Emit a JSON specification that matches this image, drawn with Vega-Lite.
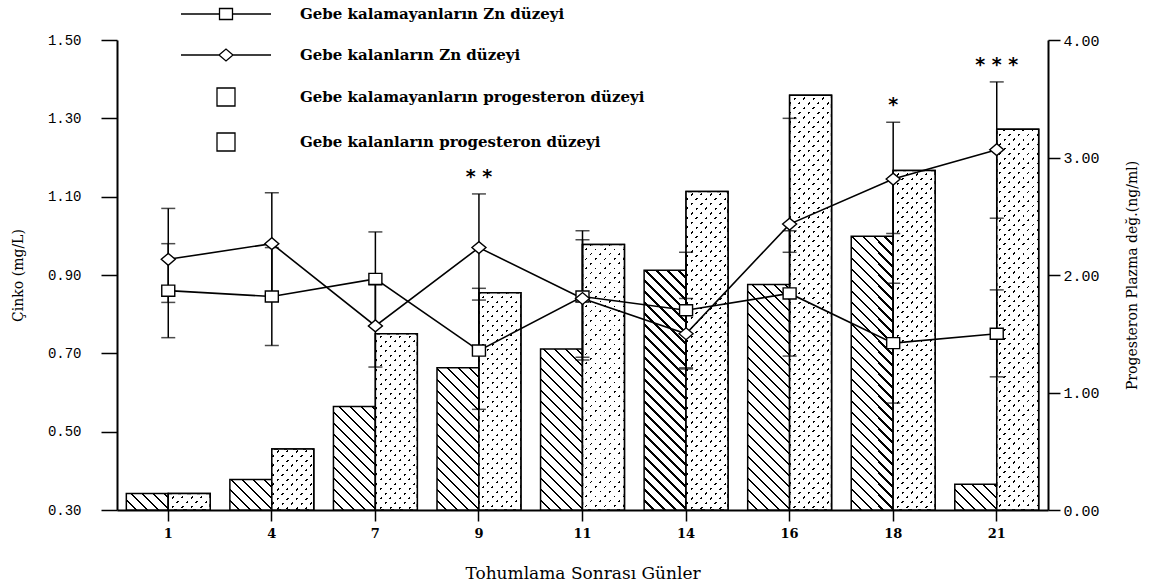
{
"$schema": "https://vega.github.io/schema/vega-lite/v6.json",
"width": 931,
"height": 470,
"autosize": {"type": "none"},
"padding": {"left": 117, "top": 40, "right": 112, "bottom": 74},
"background": "white",
"config": {
  "view": {"stroke": null},
  "font": "DejaVu Serif",
  "axis": {"grid": false, "domainColor": "black", "tickColor": "black", "labelColor": "black", "titleColor": "black", "titleFontWeight": "normal", "domainWidth": 2, "tickWidth": 1.5}
},
"params": [
{"name": "hs", "value": [
{"offset":0,"color":"#fff"},{"offset":0.016,"color":"#fff"},{"offset":0.016,"color":"#000"},{"offset":0.02,"color":"#000"},
{"offset":0.02,"color":"#fff"},{"offset":0.036,"color":"#fff"},{"offset":0.036,"color":"#000"},{"offset":0.04,"color":"#000"},
{"offset":0.04,"color":"#fff"},{"offset":0.056,"color":"#fff"},{"offset":0.056,"color":"#000"},{"offset":0.06,"color":"#000"},
{"offset":0.06,"color":"#fff"},{"offset":0.076,"color":"#fff"},{"offset":0.076,"color":"#000"},{"offset":0.08,"color":"#000"},
{"offset":0.08,"color":"#fff"},{"offset":0.096,"color":"#fff"},{"offset":0.096,"color":"#000"},{"offset":0.1,"color":"#000"},
{"offset":0.1,"color":"#fff"},{"offset":0.116,"color":"#fff"},{"offset":0.116,"color":"#000"},{"offset":0.12,"color":"#000"},
{"offset":0.12,"color":"#fff"},{"offset":0.136,"color":"#fff"},{"offset":0.136,"color":"#000"},{"offset":0.14,"color":"#000"},
{"offset":0.14,"color":"#fff"},{"offset":0.156,"color":"#fff"},{"offset":0.156,"color":"#000"},{"offset":0.16,"color":"#000"},
{"offset":0.16,"color":"#fff"},{"offset":0.176,"color":"#fff"},{"offset":0.176,"color":"#000"},{"offset":0.18,"color":"#000"},
{"offset":0.18,"color":"#fff"},{"offset":0.196,"color":"#fff"},{"offset":0.196,"color":"#000"},{"offset":0.2,"color":"#000"},
{"offset":0.2,"color":"#fff"},{"offset":0.216,"color":"#fff"},{"offset":0.216,"color":"#000"},{"offset":0.22,"color":"#000"},
{"offset":0.22,"color":"#fff"},{"offset":0.236,"color":"#fff"},{"offset":0.236,"color":"#000"},{"offset":0.24,"color":"#000"},
{"offset":0.24,"color":"#fff"},{"offset":0.256,"color":"#fff"},{"offset":0.256,"color":"#000"},{"offset":0.26,"color":"#000"},
{"offset":0.26,"color":"#fff"},{"offset":0.276,"color":"#fff"},{"offset":0.276,"color":"#000"},{"offset":0.28,"color":"#000"},
{"offset":0.28,"color":"#fff"},{"offset":0.296,"color":"#fff"},{"offset":0.296,"color":"#000"},{"offset":0.3,"color":"#000"},
{"offset":0.3,"color":"#fff"},{"offset":0.316,"color":"#fff"},{"offset":0.316,"color":"#000"},{"offset":0.32,"color":"#000"},
{"offset":0.32,"color":"#fff"},{"offset":0.336,"color":"#fff"},{"offset":0.336,"color":"#000"},{"offset":0.34,"color":"#000"},
{"offset":0.34,"color":"#fff"},{"offset":0.356,"color":"#fff"},{"offset":0.356,"color":"#000"},{"offset":0.36,"color":"#000"},
{"offset":0.36,"color":"#fff"},{"offset":0.376,"color":"#fff"},{"offset":0.376,"color":"#000"},{"offset":0.38,"color":"#000"},
{"offset":0.38,"color":"#fff"},{"offset":0.396,"color":"#fff"},{"offset":0.396,"color":"#000"},{"offset":0.4,"color":"#000"},
{"offset":0.4,"color":"#fff"},{"offset":0.416,"color":"#fff"},{"offset":0.416,"color":"#000"},{"offset":0.42,"color":"#000"},
{"offset":0.42,"color":"#fff"},{"offset":0.436,"color":"#fff"},{"offset":0.436,"color":"#000"},{"offset":0.44,"color":"#000"},
{"offset":0.44,"color":"#fff"},{"offset":0.456,"color":"#fff"},{"offset":0.456,"color":"#000"},{"offset":0.46,"color":"#000"},
{"offset":0.46,"color":"#fff"},{"offset":0.476,"color":"#fff"},{"offset":0.476,"color":"#000"},{"offset":0.48,"color":"#000"},
{"offset":0.48,"color":"#fff"},{"offset":0.496,"color":"#fff"},{"offset":0.496,"color":"#000"},{"offset":0.5,"color":"#000"},
{"offset":0.5,"color":"#fff"},{"offset":0.516,"color":"#fff"},{"offset":0.516,"color":"#000"},{"offset":0.52,"color":"#000"},
{"offset":0.52,"color":"#fff"},{"offset":0.536,"color":"#fff"},{"offset":0.536,"color":"#000"},{"offset":0.54,"color":"#000"},
{"offset":0.54,"color":"#fff"},{"offset":0.556,"color":"#fff"},{"offset":0.556,"color":"#000"},{"offset":0.56,"color":"#000"},
{"offset":0.56,"color":"#fff"},{"offset":0.576,"color":"#fff"},{"offset":0.576,"color":"#000"},{"offset":0.58,"color":"#000"},
{"offset":0.58,"color":"#fff"},{"offset":0.596,"color":"#fff"},{"offset":0.596,"color":"#000"},{"offset":0.6,"color":"#000"},
{"offset":0.6,"color":"#fff"},{"offset":0.616,"color":"#fff"},{"offset":0.616,"color":"#000"},{"offset":0.62,"color":"#000"},
{"offset":0.62,"color":"#fff"},{"offset":0.636,"color":"#fff"},{"offset":0.636,"color":"#000"},{"offset":0.64,"color":"#000"},
{"offset":0.64,"color":"#fff"},{"offset":0.656,"color":"#fff"},{"offset":0.656,"color":"#000"},{"offset":0.66,"color":"#000"},
{"offset":0.66,"color":"#fff"},{"offset":0.676,"color":"#fff"},{"offset":0.676,"color":"#000"},{"offset":0.68,"color":"#000"},
{"offset":0.68,"color":"#fff"},{"offset":0.696,"color":"#fff"},{"offset":0.696,"color":"#000"},{"offset":0.7,"color":"#000"},
{"offset":0.7,"color":"#fff"},{"offset":0.716,"color":"#fff"},{"offset":0.716,"color":"#000"},{"offset":0.72,"color":"#000"},
{"offset":0.72,"color":"#fff"},{"offset":0.736,"color":"#fff"},{"offset":0.736,"color":"#000"},{"offset":0.74,"color":"#000"},
{"offset":0.74,"color":"#fff"},{"offset":0.756,"color":"#fff"},{"offset":0.756,"color":"#000"},{"offset":0.76,"color":"#000"},
{"offset":0.76,"color":"#fff"},{"offset":0.776,"color":"#fff"},{"offset":0.776,"color":"#000"},{"offset":0.78,"color":"#000"},
{"offset":0.78,"color":"#fff"},{"offset":0.796,"color":"#fff"},{"offset":0.796,"color":"#000"},{"offset":0.8,"color":"#000"},
{"offset":0.8,"color":"#fff"},{"offset":0.816,"color":"#fff"},{"offset":0.816,"color":"#000"},{"offset":0.82,"color":"#000"},
{"offset":0.82,"color":"#fff"},{"offset":0.836,"color":"#fff"},{"offset":0.836,"color":"#000"},{"offset":0.84,"color":"#000"},
{"offset":0.84,"color":"#fff"},{"offset":0.856,"color":"#fff"},{"offset":0.856,"color":"#000"},{"offset":0.86,"color":"#000"},
{"offset":0.86,"color":"#fff"},{"offset":0.876,"color":"#fff"},{"offset":0.876,"color":"#000"},{"offset":0.88,"color":"#000"},
{"offset":0.88,"color":"#fff"},{"offset":0.896,"color":"#fff"},{"offset":0.896,"color":"#000"},{"offset":0.9,"color":"#000"},
{"offset":0.9,"color":"#fff"},{"offset":0.916,"color":"#fff"},{"offset":0.916,"color":"#000"},{"offset":0.92,"color":"#000"},
{"offset":0.92,"color":"#fff"},{"offset":0.936,"color":"#fff"},{"offset":0.936,"color":"#000"},{"offset":0.94,"color":"#000"},
{"offset":0.94,"color":"#fff"},{"offset":0.956,"color":"#fff"},{"offset":0.956,"color":"#000"},{"offset":0.96,"color":"#000"},
{"offset":0.96,"color":"#fff"},{"offset":0.976,"color":"#fff"},{"offset":0.976,"color":"#000"},{"offset":0.98,"color":"#000"},
{"offset":0.98,"color":"#fff"},{"offset":0.996,"color":"#fff"},{"offset":0.996,"color":"#000"},{"offset":1,"color":"#000"}
]},
{"name": "gs", "value": [
{"offset":0,"color":"#fff"},{"offset":0.013,"color":"#fff"},{"offset":0.013,"color":"transparent"},{"offset":0.02,"color":"transparent"},
{"offset":0.02,"color":"#fff"},{"offset":0.033,"color":"#fff"},{"offset":0.033,"color":"transparent"},{"offset":0.04,"color":"transparent"},
{"offset":0.04,"color":"#fff"},{"offset":0.053,"color":"#fff"},{"offset":0.053,"color":"transparent"},{"offset":0.06,"color":"transparent"},
{"offset":0.06,"color":"#fff"},{"offset":0.073,"color":"#fff"},{"offset":0.073,"color":"transparent"},{"offset":0.08,"color":"transparent"},
{"offset":0.08,"color":"#fff"},{"offset":0.093,"color":"#fff"},{"offset":0.093,"color":"transparent"},{"offset":0.1,"color":"transparent"},
{"offset":0.1,"color":"#fff"},{"offset":0.113,"color":"#fff"},{"offset":0.113,"color":"transparent"},{"offset":0.12,"color":"transparent"},
{"offset":0.12,"color":"#fff"},{"offset":0.133,"color":"#fff"},{"offset":0.133,"color":"transparent"},{"offset":0.14,"color":"transparent"},
{"offset":0.14,"color":"#fff"},{"offset":0.153,"color":"#fff"},{"offset":0.153,"color":"transparent"},{"offset":0.16,"color":"transparent"},
{"offset":0.16,"color":"#fff"},{"offset":0.173,"color":"#fff"},{"offset":0.173,"color":"transparent"},{"offset":0.18,"color":"transparent"},
{"offset":0.18,"color":"#fff"},{"offset":0.193,"color":"#fff"},{"offset":0.193,"color":"transparent"},{"offset":0.2,"color":"transparent"},
{"offset":0.2,"color":"#fff"},{"offset":0.213,"color":"#fff"},{"offset":0.213,"color":"transparent"},{"offset":0.22,"color":"transparent"},
{"offset":0.22,"color":"#fff"},{"offset":0.233,"color":"#fff"},{"offset":0.233,"color":"transparent"},{"offset":0.24,"color":"transparent"},
{"offset":0.24,"color":"#fff"},{"offset":0.253,"color":"#fff"},{"offset":0.253,"color":"transparent"},{"offset":0.26,"color":"transparent"},
{"offset":0.26,"color":"#fff"},{"offset":0.273,"color":"#fff"},{"offset":0.273,"color":"transparent"},{"offset":0.28,"color":"transparent"},
{"offset":0.28,"color":"#fff"},{"offset":0.293,"color":"#fff"},{"offset":0.293,"color":"transparent"},{"offset":0.3,"color":"transparent"},
{"offset":0.3,"color":"#fff"},{"offset":0.313,"color":"#fff"},{"offset":0.313,"color":"transparent"},{"offset":0.32,"color":"transparent"},
{"offset":0.32,"color":"#fff"},{"offset":0.333,"color":"#fff"},{"offset":0.333,"color":"transparent"},{"offset":0.34,"color":"transparent"},
{"offset":0.34,"color":"#fff"},{"offset":0.353,"color":"#fff"},{"offset":0.353,"color":"transparent"},{"offset":0.36,"color":"transparent"},
{"offset":0.36,"color":"#fff"},{"offset":0.373,"color":"#fff"},{"offset":0.373,"color":"transparent"},{"offset":0.38,"color":"transparent"},
{"offset":0.38,"color":"#fff"},{"offset":0.393,"color":"#fff"},{"offset":0.393,"color":"transparent"},{"offset":0.4,"color":"transparent"},
{"offset":0.4,"color":"#fff"},{"offset":0.413,"color":"#fff"},{"offset":0.413,"color":"transparent"},{"offset":0.42,"color":"transparent"},
{"offset":0.42,"color":"#fff"},{"offset":0.433,"color":"#fff"},{"offset":0.433,"color":"transparent"},{"offset":0.44,"color":"transparent"},
{"offset":0.44,"color":"#fff"},{"offset":0.453,"color":"#fff"},{"offset":0.453,"color":"transparent"},{"offset":0.46,"color":"transparent"},
{"offset":0.46,"color":"#fff"},{"offset":0.473,"color":"#fff"},{"offset":0.473,"color":"transparent"},{"offset":0.48,"color":"transparent"},
{"offset":0.48,"color":"#fff"},{"offset":0.493,"color":"#fff"},{"offset":0.493,"color":"transparent"},{"offset":0.5,"color":"transparent"},
{"offset":0.5,"color":"#fff"},{"offset":0.513,"color":"#fff"},{"offset":0.513,"color":"transparent"},{"offset":0.52,"color":"transparent"},
{"offset":0.52,"color":"#fff"},{"offset":0.533,"color":"#fff"},{"offset":0.533,"color":"transparent"},{"offset":0.54,"color":"transparent"},
{"offset":0.54,"color":"#fff"},{"offset":0.553,"color":"#fff"},{"offset":0.553,"color":"transparent"},{"offset":0.56,"color":"transparent"},
{"offset":0.56,"color":"#fff"},{"offset":0.573,"color":"#fff"},{"offset":0.573,"color":"transparent"},{"offset":0.58,"color":"transparent"},
{"offset":0.58,"color":"#fff"},{"offset":0.593,"color":"#fff"},{"offset":0.593,"color":"transparent"},{"offset":0.6,"color":"transparent"},
{"offset":0.6,"color":"#fff"},{"offset":0.613,"color":"#fff"},{"offset":0.613,"color":"transparent"},{"offset":0.62,"color":"transparent"},
{"offset":0.62,"color":"#fff"},{"offset":0.633,"color":"#fff"},{"offset":0.633,"color":"transparent"},{"offset":0.64,"color":"transparent"},
{"offset":0.64,"color":"#fff"},{"offset":0.653,"color":"#fff"},{"offset":0.653,"color":"transparent"},{"offset":0.66,"color":"transparent"},
{"offset":0.66,"color":"#fff"},{"offset":0.673,"color":"#fff"},{"offset":0.673,"color":"transparent"},{"offset":0.68,"color":"transparent"},
{"offset":0.68,"color":"#fff"},{"offset":0.693,"color":"#fff"},{"offset":0.693,"color":"transparent"},{"offset":0.7,"color":"transparent"},
{"offset":0.7,"color":"#fff"},{"offset":0.713,"color":"#fff"},{"offset":0.713,"color":"transparent"},{"offset":0.72,"color":"transparent"},
{"offset":0.72,"color":"#fff"},{"offset":0.733,"color":"#fff"},{"offset":0.733,"color":"transparent"},{"offset":0.74,"color":"transparent"},
{"offset":0.74,"color":"#fff"},{"offset":0.753,"color":"#fff"},{"offset":0.753,"color":"transparent"},{"offset":0.76,"color":"transparent"},
{"offset":0.76,"color":"#fff"},{"offset":0.773,"color":"#fff"},{"offset":0.773,"color":"transparent"},{"offset":0.78,"color":"transparent"},
{"offset":0.78,"color":"#fff"},{"offset":0.793,"color":"#fff"},{"offset":0.793,"color":"transparent"},{"offset":0.8,"color":"transparent"},
{"offset":0.8,"color":"#fff"},{"offset":0.813,"color":"#fff"},{"offset":0.813,"color":"transparent"},{"offset":0.82,"color":"transparent"},
{"offset":0.82,"color":"#fff"},{"offset":0.833,"color":"#fff"},{"offset":0.833,"color":"transparent"},{"offset":0.84,"color":"transparent"},
{"offset":0.84,"color":"#fff"},{"offset":0.853,"color":"#fff"},{"offset":0.853,"color":"transparent"},{"offset":0.86,"color":"transparent"},
{"offset":0.86,"color":"#fff"},{"offset":0.873,"color":"#fff"},{"offset":0.873,"color":"transparent"},{"offset":0.88,"color":"transparent"},
{"offset":0.88,"color":"#fff"},{"offset":0.893,"color":"#fff"},{"offset":0.893,"color":"transparent"},{"offset":0.9,"color":"transparent"},
{"offset":0.9,"color":"#fff"},{"offset":0.913,"color":"#fff"},{"offset":0.913,"color":"transparent"},{"offset":0.92,"color":"transparent"},
{"offset":0.92,"color":"#fff"},{"offset":0.933,"color":"#fff"},{"offset":0.933,"color":"transparent"},{"offset":0.94,"color":"transparent"},
{"offset":0.94,"color":"#fff"},{"offset":0.953,"color":"#fff"},{"offset":0.953,"color":"transparent"},{"offset":0.96,"color":"transparent"},
{"offset":0.96,"color":"#fff"},{"offset":0.973,"color":"#fff"},{"offset":0.973,"color":"transparent"},{"offset":0.98,"color":"transparent"},
{"offset":0.98,"color":"#fff"},{"offset":0.993,"color":"#fff"},{"offset":0.993,"color":"transparent"},{"offset":1,"color":"transparent"}
]}
],
"datasets": {
  "prog": [
    {"day":1,"g":"no","prog":0.14},{"day":1,"g":"yes","prog":0.14},
    {"day":4,"g":"no","prog":0.26},{"day":4,"g":"yes","prog":0.52},
    {"day":7,"g":"no","prog":0.88},{"day":7,"g":"yes","prog":1.5},
    {"day":9,"g":"no","prog":1.21},{"day":9,"g":"yes","prog":1.85},
    {"day":11,"g":"no","prog":1.37},{"day":11,"g":"yes","prog":2.26},
    {"day":14,"g":"no","prog":2.04},{"day":14,"g":"yes","prog":2.71},
    {"day":16,"g":"no","prog":1.92},{"day":16,"g":"yes","prog":3.53},
    {"day":18,"g":"no","prog":2.33},{"day":18,"g":"yes","prog":2.89},
    {"day":21,"g":"no","prog":0.22},{"day":21,"g":"yes","prog":3.24}
  ],
  "zn": [
    {"day":1,"g":"no","zn":0.86,"lo":0.74,"hi":0.98,"star":null},
    {"day":1,"g":"yes","zn":0.94,"lo":0.83,"hi":1.07,"star":null},
    {"day":4,"g":"no","zn":0.845,"lo":0.72,"hi":0.97,"star":null},
    {"day":4,"g":"yes","zn":0.98,"lo":0.85,"hi":1.11,"star":null},
    {"day":7,"g":"no","zn":0.89,"lo":0.77,"hi":1.01,"star":null},
    {"day":7,"g":"yes","zn":0.77,"lo":0.665,"hi":0.875,"star":null},
    {"day":9,"g":"no","zn":0.707,"lo":0.557,"hi":0.866,"star":null},
    {"day":9,"g":"yes","zn":0.97,"lo":0.836,"hi":1.107,"star":"* *"},
    {"day":11,"g":"no","zn":0.845,"lo":0.683,"hi":1.013,"star":null},
    {"day":11,"g":"yes","zn":0.84,"lo":0.69,"hi":0.99,"star":null},
    {"day":14,"g":"no","zn":0.81,"lo":0.663,"hi":0.958,"star":null},
    {"day":14,"g":"yes","zn":0.75,"lo":0.66,"hi":0.84,"star":null},
    {"day":16,"g":"no","zn":0.853,"lo":0.693,"hi":1.013,"star":null},
    {"day":16,"g":"yes","zn":1.03,"lo":0.958,"hi":1.3,"star":null},
    {"day":18,"g":"no","zn":0.726,"lo":0.573,"hi":0.879,"star":null},
    {"day":18,"g":"yes","zn":1.145,"lo":1.006,"hi":1.29,"star":"*"},
    {"day":21,"g":"no","zn":0.75,"lo":0.64,"hi":0.862,"star":null},
    {"day":21,"g":"yes","zn":1.22,"lo":1.045,"hi":1.393,"star":"* * *"}
  ],
  "leg": [
    {"series":"Gebe kalamayanların Zn düzeyi"},
    {"series":"Gebe kalanların Zn düzeyi"},
    {"series":"Gebe kalamayanların progesteron düzeyi"},
    {"series":"Gebe kalanların progesteron düzeyi"}
  ]
},
"layer": [
  {
    "data": {"name": "prog"},
    "encoding": {
      "x": {"field": "day", "type": "ordinal", "sort": null, "title": "Tohumlama Sonrası Günler",
            "scale": {"paddingInner": 0.19, "paddingOuter": 0.09},
            "axis": {"labelAngle": 0, "tickSize": 11, "labelPadding": 6, "labelFont": "DejaVu Serif", "labelFontSize": 13, "labelFontWeight": "bold", "titleFont": "DejaVu Serif", "titleFontSize": 17, "titlePadding": 25}},
      "xOffset": {"field": "g", "type": "nominal", "scale": {"domain": ["no", "yes"], "paddingInner": 0, "paddingOuter": 0}},
      "y": {"field": "prog", "type": "quantitative", "title": "Progesteron Plazma değ.(ng/ml)",
            "scale": {"domain": [0, 4], "nice": false, "zero": true},
            "axis": {"orient": "right", "values": [0, 1, 2, 3, 4], "format": ".2f", "tickSize": 12, "labelPadding": 3, "labelFont": "Liberation Mono", "labelFontSize": 15, "titleAngle": 270, "titleFont": "DejaVu Serif", "titleFontSize": 14, "titlePadding": 40}}
    },
    "layer": [
      {"mark": {"type": "bar", "stroke": "black", "strokeWidth": 1.5,
        "fill": {"expr": "datum.g == 'no' ? {gradient: 'linear', x1: 0, y1: 1, x2: 23100 / (pow(datum.prog * 117.5, 2) + 1764), y2: 1 - 550 * datum.prog * 117.5 / (pow(datum.prog * 117.5, 2) + 1764), stops: hs} : {gradient: 'linear', x1: 0, y1: 0, x2: 19950 / (pow(datum.prog * 117.5, 2) + 1764), y2: 475 * datum.prog * 117.5 / (pow(datum.prog * 117.5, 2) + 1764), stops: hs}"}}},
      {"transform": [{"filter": "datum.g == 'yes'"}],
       "mark": {"type": "bar", "stroke": "black", "strokeWidth": 1.5,
        "fill": {"expr": "{gradient: 'linear', x1: 0, y1: 1, x2: 19950 / (pow(datum.prog * 117.5, 2) + 1764), y2: 1 - 475 * datum.prog * 117.5 / (pow(datum.prog * 117.5, 2) + 1764), stops: gs}"}}}
    ]
  },
  {
    "data": {"name": "zn"},
    "encoding": {
      "x": {"field": "day", "type": "ordinal", "sort": null, "title": "Tohumlama Sonrası Günler",
            "scale": {"paddingInner": 0.19, "paddingOuter": 0.09},
            "axis": {"labelAngle": 0, "tickSize": 11, "labelPadding": 6, "labelFont": "DejaVu Serif", "labelFontSize": 13, "labelFontWeight": "bold", "titleFont": "DejaVu Serif", "titleFontSize": 17, "titlePadding": 25}},
      "y": {"field": "zn", "type": "quantitative", "title": "Çinko (mg/L)",
            "scale": {"domain": [0.3, 1.5], "nice": false, "zero": false},
            "axis": {"orient": "left", "values": [0.3, 0.5, 0.7, 0.9, 1.1, 1.3, 1.5], "format": ".2f", "tickSize": 16, "labelPadding": 20, "labelFont": "Liberation Mono", "labelFontSize": 14, "titleFont": "DejaVu Serif", "titleFontSize": 14, "titlePadding": 22}}
    },
    "layer": [
      {"mark": {"type": "line", "color": "black", "strokeWidth": 1.6}, "encoding": {"detail": {"field": "g"}}},
      {"mark": {"type": "rule", "color": "black", "strokeWidth": 1.5},
       "encoding": {"y": {"field": "lo", "type": "quantitative", "title": "Çinko (mg/L)"}, "y2": {"field": "hi"}}},
      {"mark": {"type": "tick", "color": "black", "size": 14, "thickness": 1.5, "orient": "horizontal"},
       "encoding": {"y": {"field": "lo", "type": "quantitative", "title": "Çinko (mg/L)"}}},
      {"mark": {"type": "tick", "color": "black", "size": 14, "thickness": 1.5, "orient": "horizontal"},
       "encoding": {"y": {"field": "hi", "type": "quantitative", "title": "Çinko (mg/L)"}}},
      {"transform": [{"filter": "datum.g == 'no'"}],
       "mark": {"type": "point", "shape": "M-1,-0.85H1V0.85H-1Z", "size": 169, "filled": true, "fill": "white", "stroke": "black", "strokeWidth": 1.4, "opacity": 1}},
      {"transform": [{"filter": "datum.g == 'yes'"}],
       "mark": {"type": "point", "shape": "M-1,0L0,-0.85L1,0L0,0.85Z", "size": 196, "filled": true, "fill": "white", "stroke": "black", "strokeWidth": 1.4, "opacity": 1}},
      {"transform": [{"filter": "datum.star != null"}],
       "mark": {"type": "text", "font": "DejaVu Sans", "fontSize": 19, "fontWeight": "bold", "baseline": "alphabetic", "align": "center", "yOffset": -11, "color": "black"},
       "encoding": {"y": {"field": "hi", "type": "quantitative", "title": "Çinko (mg/L)"}, "text": {"field": "star"}}}
    ]
  },
  {
    "data": {"name": "leg"},
    "mark": {"type": "point", "opacity": 0},
    "encoding": {
      "shape": {"field": "series", "type": "nominal",
        "scale": {"domain": ["Gebe kalamayanların Zn düzeyi", "Gebe kalanların Zn düzeyi", "Gebe kalamayanların progesteron düzeyi", "Gebe kalanların progesteron düzeyi"],
                  "range": ["M-4.5,0H-0.65M0.65,0H4.5M-0.65,-0.55H0.65V0.55H-0.65Z", "M-4.5,0H-0.7M0.7,0H4.5M-0.7,0L0,-0.6L0.7,0L0,0.6Z", "M-0.9,-0.9H0.9V0.9H-0.9Z", "M-0.9,-0.9H0.9V0.9H-0.9Z"]},
        "legend": {"orient": "none", "legendX": 98, "legendY": -37, "title": null, "padding": 0,
          "symbolSize": 400, "symbolStrokeWidth": 1.3, "symbolStrokeColor": "black", "symbolFillColor": "white", "symbolOpacity": 1,
          "labelFont": "DejaVu Serif", "labelFontSize": 15, "labelFontWeight": "bold", "labelColor": "black", "labelOffset": 63, "labelLimit": 600, "rowPadding": 21}
      }
    }
  }
],
"resolve": {"scale": {"y": "independent"}}
}
